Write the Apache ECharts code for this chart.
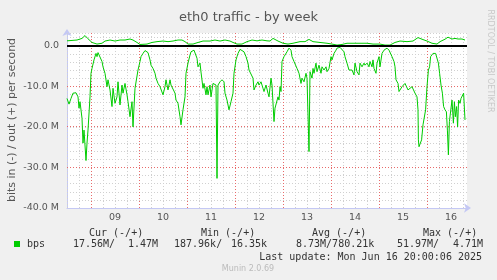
<!DOCTYPE html>
<html>
<head>
<meta charset="utf-8">
<script src="https://cdn.jsdelivr.net/npm/echarts@6/dist/echarts.min.js"></script>
<style>
html,body{margin:0;padding:0;background:#f0f0f0;}
#c{width:497px;height:280px;}
</style>
</head>
<body>
<div id="c"></div>
<script>
// Hours since Jun 8 12:00 ; values in Mbit/s (in = negative)
const inHours = [0,1,2,3,4.5,5.5,6,6.5,7.5,8,8.5,9.5,10,10.5,11.5,12,12.5,13.5,14.5,15,15.5,16.5,17.5,18,19,20,20.5,21.5,22.5,23,24,25,25.5,26.5,27.5,28,29,30,30.5,31.5,32.5,33,34,34.5,35.5,36.5,37,38,39,39.5,40.5,41.5,42,43,44,44.5,45.5,46.5,47,48,49,49.5,50.5,51.5,52,53,54,54.5,55.5,56.5,57,58,59,59.5,60.5,61.5,62,63.5,64.5,65,65.5,66.5,67,68,68.5,69.5,70,70.5,71.5,72,73,73.5,74.5,75,75.5,76.5,77.5,78.5,79,80,81,82,83,83.5,84.5,85,85.5,86.5,87.5,88.5,89.5,90.5,91,92,93,93.5,94.5,95.5,96,97,98,98.5,99.5,100.5,101,102,102.5,103.5,104,104.5,105.5,106,106.5,107,107.5,108.5,109.5,110,111,112,112.5,113.5,114.5,115,116,117,117.5,118.5,119.5,120,121,121.5,122.5,123,123.5,124.5,125,126,127,127.5,128.5,129.5,130,131,132,132.5,133.5,134.5,135,136.5,137.5,138.5,139,140,141,141.5,142.5,143.5,144,145,146,146.5,147.5,148.5,149,150,151,151.5,152.5,153,153.5,154.5,155,156,156.5,157.5,158.5,159,160,161,161.5,162.5,163.5,164,164.5,165.5,166,166.5,167.5,168.5,169,170,170.5,171.5,172.5,173,174,175,175.5,175.7,176,176.7,177.3,178,178.7,179.3,180,180.7,181.3,181.8,182.3,183,183.7,184.3,185,185.7,186.3,187,187.7,188.3,189,189.7,190.2,190.7,191.2,191.8,192.5,193.2,193.7,194.2,194.8,195.3,195.8,196.5,197,197.7,198.3,199];
const inValues = [-13.0,-14.4,-13.0,-11.7,-11.6,-12.6,-15.4,-13.8,-17.9,-24.0,-20.8,-28.3,-24.0,-20.8,-12.6,-6.8,-5.6,-3.5,-1.9,-2.7,-1.7,-2.0,-3.9,-5.2,-6.8,-10.1,-8.4,-10.9,-15.0,-10.5,-14.2,-12.6,-8.9,-14.6,-9.7,-11.7,-9.3,-12.1,-13.8,-17.5,-13.8,-20.0,-10.5,-10.9,-6.0,-3.9,-2.7,-1.9,-1.2,-1.1,-1.7,-3.5,-4.8,-5.6,-6.8,-8.0,-9.3,-10.1,-10.5,-12.1,-10.1,-8.4,-10.9,-8.4,-9.7,-10.1,-11.7,-13.4,-14.2,-17.5,-19.5,-15.8,-12.6,-6.8,-4.3,-2.3,-1.5,-1.1,-1.5,-3.1,-5.2,-4.3,-6.5,-10.5,-9.3,-12.1,-10.1,-12.1,-9.7,-12.6,-9.3,-9.1,-9.7,-32.7,-9.7,-8.9,-8.4,-8.9,-11.7,-13.4,-15.8,-13.8,-11.7,-6.8,-3.5,-2.7,-1.9,-0.9,-1.2,-1.5,-2.7,-4.3,-6.0,-5.6,-8.0,-10.9,-9.7,-8.9,-9.7,-8.9,-10.5,-11.3,-9.7,-11.7,-12.6,-8.0,-9.7,-18.7,-15.4,-15.0,-12.6,-13.4,-10.1,-11.3,-3.9,-2.7,-2.3,-1.5,-0.6,-1.1,-2.7,-3.9,-4.3,-5.6,-6.8,-9.3,-8.0,-8.9,-6.8,-8.0,-26.1,-6.4,-8.0,-5.6,-6.8,-4.3,-6.4,-4.8,-6.8,-5.2,-6.0,-5.2,-6.4,-5.6,-2.7,-3.5,-1.9,-1.1,-0.6,-0.4,-0.6,-1.5,-2.7,-4.3,-6.0,-6.4,-6.0,-7.2,-4.3,-6.4,-7.2,-4.3,-5.2,-4.3,-4.8,-4.3,-5.2,-3.9,-5.2,-3.5,-5.6,-6.8,-4.3,-2.7,-5.2,-1.9,-1.1,-0.9,-0.6,-1.1,-1.5,-2.7,-3.9,-5.2,-8.4,-9.3,-11.3,-11.7,-10.1,-10.5,-9.3,-9.7,-10.9,-10.5,-10.1,-10.5,-11.7,-12.6,-15.8,-23.2,-24.9,-24.5,-23.2,-19.5,-19.1,-15.8,-10.1,-6.0,-5.2,-2.7,-3.1,-1.9,-1.5,-1.9,-2.3,-4.3,-6.8,-9.7,-11.7,-15.0,-15.8,-16.3,-20.8,-26.9,-18.7,-18.3,-13.4,-19.1,-13.8,-17.5,-15.0,-20.0,-13.4,-14.2,-13.0,-13.4,-11.7,-18.3];
const outHours = [0,5,7.5,9,10.5,12.5,15,17.5,19,21.5,24,26.5,29,31.5,33,35,36.5,40,42.5,45,48,50.5,53,55.5,57.5,59,60.5,63,65.5,68,71.5,74,75,76.5,79,81.5,83,85,87.5,90,92.5,95,97.5,100,101.5,103,105.5,108,110.5,113,116.5,119,121,123,126.5,130,132.5,135,137.5,140,143,146.5,150,153,156.5,159,161.5,164,166.5,170,173,175.5,177.5,180,182.5,185,186.5,189,190.5,192.5,194,195.5,197.5,199];
const outValues = [1.2,1.4,1.8,2.5,1.7,0.8,0.4,0.6,1.15,1.4,1.15,1.4,1.4,1.65,1.4,0.8,0.3,0.4,0.8,1.0,1.15,1.0,1.15,1.4,1.4,1.0,0.4,0.4,0.8,1.15,1.15,1.4,1.65,1.15,1.4,1.15,0.8,0.4,0.4,1.0,1.4,1.2,1.4,1.2,1.15,1.8,1.15,0.6,0.4,0.6,1.0,1.0,1.55,1.0,0.8,0.6,0.4,0.15,0.3,0.6,0.6,0.6,0.6,0.4,0.4,0.15,0.15,0.8,1.15,1.0,1.15,2.0,1.6,1.15,0.6,0.4,1.0,1.6,2.1,1.65,1.8,1.65,1.65,1.4];
const dayLabels = ['09','10','11','12','13','14','15','16'];
const midnightHours = [12,36,60,84,108,132,156,180];
const majorYValues = [-10,-20,-30];
const yMin = -40, yMax = 3.13;
const xMin = 0, xMax = 200, minorStep = 6;

const zip = (a,b) => a.map((v,i)=>[v,b[i]]);
const green = '#00cc00';
const axisBlue = '#c4c8f4';
const redGrid = '#e86a6a';
const grayGrid = '#d0d0d0';
const chart = echarts.init(document.getElementById('c'), null, {renderer:'canvas'});
const mono = 'DejaVu Sans Mono';
const sans = 'DejaVu Sans';
function txt(x,y,s,align,opt){
  return Object.assign({type:'text',x:x,y:y,silent:true,style:{text:s,fill:'#333',font:'10px "'+mono+'"',textAlign:align||'left',textVerticalAlign:'middle'}},opt||{});
}
const snap = v => Math.floor(v) + 0.5;
// minor vertical gridline hours (every 6 h, skipping the midnights drawn in red)
const minorHours = [];
for (let h = xMin; h <= xMax; h += minorStep) if (midnightHours.indexOf(h) < 0) minorHours.push(h);
const vLine = color => (params,api)=>{const cs=params.coordSys; const x=snap(api.coord([api.value(0),0])[0]);
  return {type:'line',shape:{x1:x,y1:cs.y,x2:x,y2:cs.y+cs.height},style:{stroke:color,lineWidth:1,lineDash:[1,2]}};};
chart.setOption({
  animation:false,
  backgroundColor:'#f0f0f0',
  title:{text:'eth0 traffic - by week',left:'center',top:6,textStyle:{fontFamily:sans,fontSize:13,fontWeight:'normal',color:'#555'}},
  grid:{left:67,top:33,width:400,height:175,show:true,backgroundColor:'#ffffff',borderWidth:0,containLabel:false},
  xAxis:{type:'value',min:xMin,max:xMax,interval:minorStep,
    axisLine:{onZero:false,show:true,symbol:['none','arrow'],symbolSize:[7,7],symbolOffset:[0,4],lineStyle:{color:axisBlue,width:1}},
    axisTick:{show:false},
    splitLine:{show:false},
    axisLabel:{interval:0,margin:5,color:'#555',fontFamily:sans,fontSize:9.5,
      formatter:v=>{const r=Math.round(v); if(r>0 && r%24===0){return dayLabels[r/24-1]||'';} return '';}}
  },
  yAxis:{type:'value',min:yMin,max:yMax,interval:2,
    axisLine:{show:true,symbol:['none','arrow'],symbolSize:[7,7],symbolOffset:[0,4],lineStyle:{color:axisBlue,width:1}},
    axisTick:{show:false},
    splitLine:{show:true,lineStyle:{color:grayGrid,type:[1,2],width:1}},
    axisLabel:{interval:0,margin:8,color:'#555',fontFamily:sans,fontSize:9.5,
      formatter:v=>{const r=Math.round(v); if(Math.abs(v-r)>1e-6||r%10!==0) return ''; return r===0?'0.0':r.toFixed(1)+' M';}}
  },
  series:[
    {type:'custom',name:'minorV',z:1,silent:true,data:minorHours.map(h=>[h,0]),encode:{x:0,y:1},renderItem:vLine(grayGrid)},
    {type:'custom',name:'majors',z:1,silent:true,data:majorYValues.map(v=>[0,v]),encode:{x:0,y:1},
      renderItem:(params,api)=>{const cs=params.coordSys; const y=snap(api.coord([0,api.value(1)])[1]);
        return {type:'line',shape:{x1:cs.x,y1:y,x2:cs.x+cs.width,y2:y},style:{stroke:redGrid,lineWidth:1,lineDash:[1,2]}};}},
    {type:'custom',name:'midnights',z:2,silent:true,data:midnightHours.map(h=>[h,0]),encode:{x:0,y:1},renderItem:vLine(redGrid)},
    {type:'line',name:'out',data:zip(outHours,outValues),showSymbol:false,z:3,lineStyle:{color:green,width:1},itemStyle:{color:green}},
    {type:'line',name:'in',data:zip(inHours,inValues),showSymbol:false,z:3,lineStyle:{color:green,width:1},itemStyle:{color:green}},
    {type:'custom',name:'zero',z:5,silent:true,data:[[0,0]],encode:{x:0,y:1},
      renderItem:(params,api)=>{const cs=params.coordSys; const y=Math.round(api.coord([0,api.value(1)])[1]);
        return {type:'line',shape:{x1:cs.x,y1:y,x2:cs.x+cs.width,y2:y},style:{stroke:'#000',lineWidth:2}};}}
  ],
  graphic:[
    {type:'text',x:12,y:120,rotation:Math.PI/2,silent:true,style:{text:'bits in (-) / out (+) per second',fill:'#555',font:'11px "'+sans+'"',textAlign:'center',textVerticalAlign:'middle'}},
    {type:'text',x:490,y:61,rotation:-Math.PI/2,silent:true,style:{text:'RRDTOOL / TOBI OETIKER',fill:'#c8c8c8',font:'8px "'+sans+'"',textAlign:'center',textVerticalAlign:'middle'}},
    txt(89,233,'Cur (-/+)'),
    txt(201,233,'Min (-/+)'),
    txt(312,233,'Avg (-/+)'),
    txt(423,233,'Max (-/+)'),
    {type:'rect',silent:true,shape:{x:14,y:241,width:6,height:6},style:{fill:green}},
    txt(27,244,'bps'),
    txt(73,244,'17.56M/'),
    txt(158,244,'1.47M','right'),
    txt(174,244,'187.96k/'),
    txt(267,244,'16.35k','right'),
    txt(296,244,'8.73M/780.21k'),
    txt(397,244,'51.97M/'),
    txt(483,244,'4.71M','right'),
    txt(482,257,'Last update: Mon Jun 16 20:00:06 2025','right'),
    {type:'text',x:248,y:269,silent:true,style:{text:'Munin 2.0.69',fill:'#bbbbbb',font:'8px "'+sans+'"',textAlign:'center',textVerticalAlign:'middle'}}
  ]
});
</script>
</body>
</html>
